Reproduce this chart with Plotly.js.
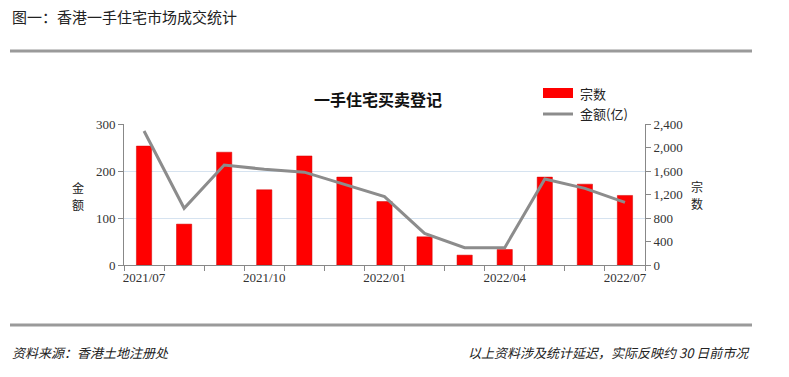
<!DOCTYPE html>
<html><head><meta charset="utf-8">
<script src="https://cdn.plot.ly/plotly-3.0.1.min.js"></script>
<style>html,body{margin:0;padding:0;background:#fff}#chart{width:789px;height:377px}</style>
</head><body><div id="chart"></div>
<script>
const months = ["2021/07","2021/08","2021/09","2021/10","2021/11","2021/12","2022/01","2022/02","2022/03","2022/04","2022/05","2022/06","2022/07"];
const labelMonths = ["2021/07","2021/10","2022/01","2022/04","2022/07"];
const countName = "宗数";
const amountName = "金额(亿)";
const leftTitle = ["金", "额"];
const rightTitle = ["宗", "数"];
const counts = [253, 87, 240, 160, 232, 187, 135, 60, 21, 33, 187, 172, 148];
const amounts = [2281, 965, 1702, 1630, 1580, 1370, 1163, 539, 295, 295, 1464, 1305, 1067];
const leftTicks = [0, 100, 200, 300];
const rightTicks = [0, 400, 800, 1200, 1600, 2000, 2400];

const L = 124, R = 645, T = 124, B = 265, W = 789, H = 377;
const px = x => (x - L) / (R - L);
const py = y => (B - y) / (B - T);
const cjk = '"Noto Sans CJK SC", sans-serif';
const serif = '"Liberation Serif", "DejaVu Serif", serif';

const traces = [
  {type:'bar', x: months, y: counts, name: countName, yaxis:'y',
   marker:{color:'#FF0000', line:{color:'#D00000', width:0.5}}, showlegend:false},
  {type:'scatter', mode:'lines', x: months, y: amounts, name: amountName, yaxis:'y2',
   line:{color:'#8C8C8C', width:3}, showlegend:false}
];

const ann = (text, x, y, anchor, size, italic) => ({
  text: italic ? '<i>' + text + '</i>' : text, xref:'paper', yref:'paper', x:px(x), y:py(y),
  xanchor:anchor, yanchor:'middle', showarrow:false, font:{family: cjk, size:size, color:'#222'}
});

const layout = {
  width: W, height: H,
  margin:{l:L, r:W-R, t:T, b:H-B},
  paper_bgcolor:'#fff', plot_bgcolor:'#fff',
  bargap: 0.62,
  font:{family: serif, size:13, color:'#333'},
  xaxis:{type:'category', tickvals: months,
    ticktext: months.map(m => labelMonths.includes(m) ? m : ''),
    tickson:'boundaries', ticks:'outside', ticklen:5, tickcolor:'#888', tickangle:0,
    showline:true, linecolor:'#888', linewidth:1, showgrid:false,
    tickfont:{family: serif, size:13, color:'#333'}, range:[-0.5, 12.5]},
  yaxis:{range:[0,300], tickvals: leftTicks, ticks:'outside', ticklen:5, tickcolor:'#888',
    showline:true, linecolor:'#888', linewidth:1, showgrid:true, gridcolor:'#D6E3F0', gridwidth:1,
    zeroline:false, tickfont:{family: serif, size:13, color:'#333'}},
  yaxis2:{range:[0,2400], tickvals: rightTicks, tickformat:',', overlaying:'y', side:'right',
    ticks:'outside', ticklen:5, tickcolor:'#888', showline:true, linecolor:'#888', linewidth:1,
    showgrid:false, zeroline:false, tickfont:{family: serif, size:13, color:'#333'}},
  title:{text:'<b>一手住宅买卖登记</b>', x: px(378), xref:'paper', xanchor:'center',
    y: 1 - 100/H, yref:'container', yanchor:'middle', font:{family: cjk, size:16, color:'#111'}},
  shapes:[
    {type:'line', xref:'paper', yref:'paper', x0:px(10), x1:px(752), y0:py(51), y1:py(51), line:{color:'#9A9A9A', width:3}},
    {type:'line', xref:'paper', yref:'paper', x0:px(10), x1:px(752), y0:py(325), y1:py(325), line:{color:'#9A9A9A', width:3}},
    {type:'rect', xref:'paper', yref:'paper', x0:px(543), x1:px(573), y0:py(98), y1:py(88), fillcolor:'#FF0000', line:{width:0}},
    {type:'line', xref:'paper', yref:'paper', x0:px(543), x1:px(573), y0:py(114), y1:py(114), line:{color:'#8C8C8C', width:3}}
  ],
  annotations:[
    ann('图一：香港一手住宅市场成交统计', 10, 16, 'left', 15),
    ann('资料来源：香港土地注册处', 10, 352, 'left', 13, true),
    ann('以上资料涉及统计延迟，实际反映约 30 日前市况', 752, 352, 'right', 13, true),
    ann(countName, 578, 93, 'left', 13),
    ann(amountName, 578, 114, 'left', 13),
    ann(leftTitle[0], 78, 187, 'center', 12),
    ann(leftTitle[1], 78, 204, 'center', 12),
    ann(rightTitle[0], 697, 186, 'center', 12),
    ann(rightTitle[1], 697, 203, 'center', 12)
  ]
};
Plotly.newPlot('chart', traces, layout, {staticPlot:true, displayModeBar:false});
</script></body></html>
